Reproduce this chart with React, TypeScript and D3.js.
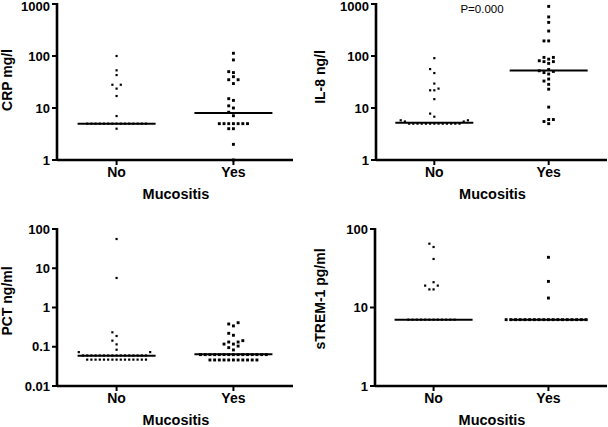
import React from 'react';
import * as d3 from 'd3';

const categories = ['No', 'Yes'];

const crpNo = [100, 53, 43, 28, 28, 23.6, 17, 7, 5, 5, 5, 5, 5, 5, 5, 5, 5, 5, 5, 5, 5, 5, 5, 4];
const crpYes = [113, 84, 50, 48, 40, 35, 35, 29.5, 15.1, 14, 11, 10, 8.3, 7.1, 5, 5, 5, 5, 5, 5, 5, 4, 4, 2, 1];
const crpMedian = [5, 8];

const il8No = [91, 56, 47, 29.5, 23.6, 21.9, 21.9, 14.8, 7.8, 6.8, 5.8, 5.8, 5.5, 5.5, 5, 5, 5, 5, 5, 5, 5, 5, 5, 5, 5, 5, 5];
const il8Yes = [900, 564, 443, 302, 195, 195, 94, 94, 87, 81, 78, 78, 72, 55, 52, 50.5, 48, 45, 36, 33, 28.5, 23, 10.4, 6, 6, 5.5, 5];
const il8Median = [5.2, 52.8];

const pctNo = [55.6, 5.65, 0.233, 0.188, 0.143, 0.115, 0.084, 0.073, 0.073,
  0.06, 0.06, 0.06, 0.06, 0.06, 0.06, 0.06, 0.06, 0.06, 0.06, 0.06, 0.06, 0.06, 0.06, 0.06, 0.06,
  0.047, 0.047, 0.047, 0.047, 0.047, 0.047, 0.047, 0.047, 0.047, 0.047, 0.047, 0.047, 0.047, 0.047, 0.047];
const pctYes = [0.41, 0.38, 0.34, 0.22, 0.196, 0.143, 0.132, 0.132, 0.117, 0.117, 0.104, 0.095, 0.083,
  0.063, 0.063, 0.063, 0.063, 0.063, 0.063, 0.063, 0.063, 0.063, 0.063, 0.063, 0.063, 0.063, 0.063, 0.063,
  0.046, 0.046, 0.046, 0.046, 0.046, 0.046, 0.046, 0.046, 0.046, 0.046, 0.046];
const pctMedian = [0.059, 0.064];

const tremNo = [65, 59, 41.5, 21, 19, 19, 17, 17, 7, 7, 7, 7, 7, 7, 7, 7, 7, 7, 7, 7];
const tremYes = [43.6, 21.5, 13.2, 7, 7, 7, 7, 7, 7, 7, 7, 7, 7, 7, 7, 7, 7, 7, 7, 7, 7];
const tremMedian = [7, 7];

const ticksA = [1, 10, 100, 1000];
const ticksB = [0.01, 0.1, 1, 10, 100];
const ticksC = [1, 10, 100];

const xTitle = 'Mucositis';
const pNote = 'P=0.000';

type Panel = {
  title: string; groups: number[][]; med: number[]; domain: [number, number]; ticks: number[];
  x0: number; x1: number; yTop: number; yBot: number; titleX: number; titleY: number; note?: string;
};

const panels: Panel[] = [
  { title: 'CRP mg/l', groups: [crpNo, crpYes], med: crpMedian, domain: [1, 1000], ticks: ticksA,
    x0: 57, x1: 293, yTop: 4, yBot: 160, titleX: 12, titleY: 80 },
  { title: 'IL-8 ng/l', groups: [il8No, il8Yes], med: il8Median, domain: [1, 1000], ticks: ticksA,
    x0: 376, x1: 607, yTop: 4, yBot: 160, titleX: 325, titleY: 77, note: pNote },
  { title: 'PCT ng/ml', groups: [pctNo, pctYes], med: pctMedian, domain: [0.01, 100], ticks: ticksB,
    x0: 57, x1: 293, yTop: 229, yBot: 386, titleX: 12, titleY: 301 },
  { title: 'sTREM-1 pg/ml', groups: [tremNo, tremYes], med: tremMedian, domain: [1, 100], ticks: ticksC,
    x0: 375, x1: 607, yTop: 229, yBot: 386, titleX: 325, titleY: 299 },
];

function swarm(values: number[], y: (v: number) => number, cx: number, s: number) {
  const placed: { x: number; y: number }[] = [];
  const sorted = [...values].sort((a, b) => a - b);
  for (const v of sorted) {
    const yy = y(v);
    for (let k = 0; k < 80; k++) {
      const slot = k === 0 ? 0 : (k % 2 === 1 ? -Math.ceil(k / 2) : k / 2);
      const xx = cx + slot * s;
      if (!placed.some(p => Math.abs(p.x - xx) < s * 0.9 && Math.abs(p.y - yy) < 4)) {
        placed.push({ x: xx, y: yy });
        break;
      }
    }
  }
  return placed;
}

const font = '"Liberation Sans", Arial, Helvetica, sans-serif';

function PanelView({ p }: { p: Panel }) {
  const y = d3.scaleLog().domain(p.domain).range([p.yBot, p.yTop]);
  const x = d3.scalePoint<string>().domain(categories).range([p.x0, p.x1]).padding(0.51);
  const spacing = [4.2, 4.7];
  const size = [2.2, 2.9];
  const half = 39;
  return (
    <g>
      {p.groups.map((g, gi) => {
        const cx = x(categories[gi]) as number;
        const pts = swarm(g, (v) => y(v), cx, spacing[gi]);
        return (
          <g key={gi}>
            {pts.map((pt, i) => (
              <rect key={i} x={pt.x - size[gi] / 2} y={pt.y - size[gi] / 2} width={size[gi]} height={size[gi]} fill="#000" />
            ))}
            <line x1={cx - half} x2={cx + half} y1={y(p.med[gi])} y2={y(p.med[gi])} stroke="#000" strokeWidth={2} />
          </g>
        );
      })}
      <line x1={p.x0} x2={p.x0} y1={p.yTop - 1} y2={p.yBot} stroke="#000" strokeWidth={2.6} />
      <line x1={p.x0} x2={p.x1} y1={p.yBot} y2={p.yBot} stroke="#000" strokeWidth={2.6} />
      {p.ticks.map(t => (
        <g key={t}>
          <line x1={p.x0 - 5} x2={p.x0} y1={y(t)} y2={y(t)} stroke="#000" strokeWidth={2} />
          <text x={p.x0 - 7} y={Math.max(y(t), 6.5)} dy="0.36em" textAnchor="end" fontFamily={font} fontWeight="bold" fontSize={13}>{String(t)}</text>
        </g>
      ))}
      {categories.map(c => (
        <g key={c}>
          <line x1={x(c) as number} x2={x(c) as number} y1={p.yBot} y2={p.yBot + 5} stroke="#000" strokeWidth={2} />
          <text x={x(c) as number} y={p.yBot + 17} textAnchor="middle" fontFamily={font} fontWeight="bold" fontSize={14}>{c}</text>
        </g>
      ))}
      <text x={(p.x0 + p.x1) / 2 + 1} y={p.yBot + 38.5} textAnchor="middle" fontFamily={font} fontWeight="bold" fontSize={14.5}>{xTitle}</text>
      <text transform={`translate(${p.titleX},${p.titleY}) rotate(-90)`} textAnchor="middle" fontFamily={font} fontWeight="bold" fontSize={14}>{p.title}</text>
      {p.note && (
        <text x={482} y={12.5} textAnchor="middle" fontFamily={font} fontSize={11.5}>{p.note}</text>
      )}
    </g>
  );
}

export default function App() {
  return (
    <svg width={608} height={427} viewBox="0 0 608 427" style={{ position: 'absolute', left: 0, top: 0, background: '#fff' }}>
      <rect width={608} height={427} fill="#fff" />
      {panels.map((p, i) => <PanelView key={i} p={p} />)}
    </svg>
  );
}
